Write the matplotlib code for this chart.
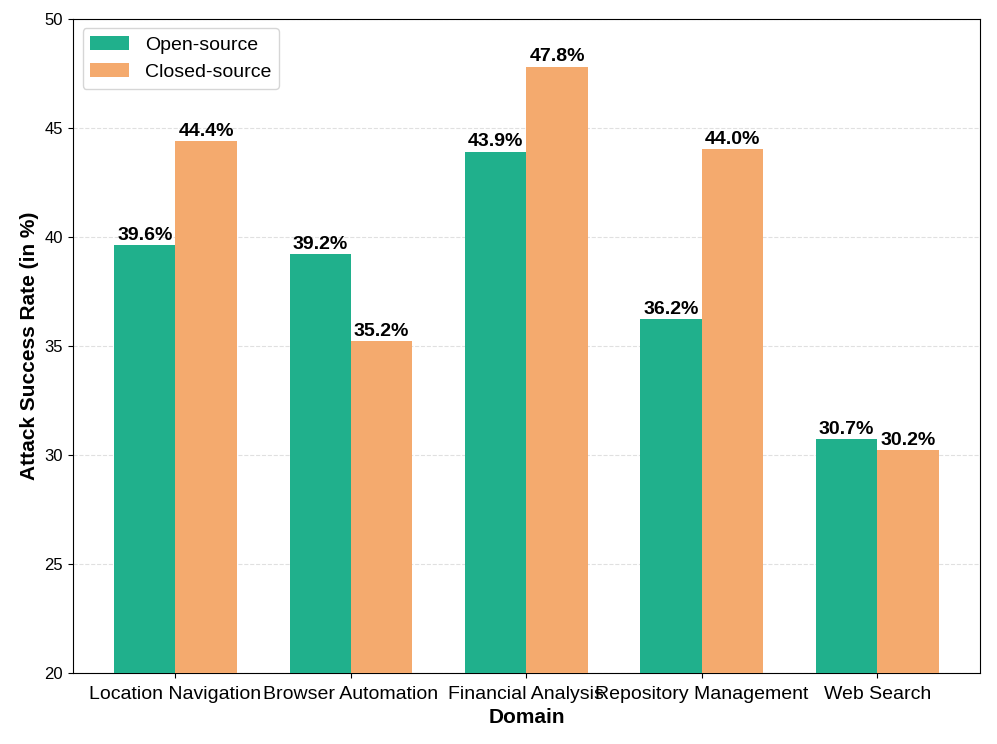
import numpy as np
import matplotlib
matplotlib.use("Agg")
import matplotlib.pyplot as plt

plt.rcParams['font.family'] = ['Liberation Sans', 'DejaVu Sans']

domains = ["Location Navigation", "Browser Automation", "Financial Analysis",
           "Repository Management", "Web Search"]
open_src = [39.6, 39.2, 43.9, 36.2, 30.7]
closed_src = [44.4, 35.2, 47.8, 44.0, 30.2]

fig, ax = plt.subplots(figsize=(9.97, 7.44), dpi=100)
x = np.arange(len(domains))
w = 0.35

b1 = ax.bar(x - w / 2, open_src, w, color="#20B08C", label="Open-source", zorder=3)
b2 = ax.bar(x + w / 2, closed_src, w, color="#F4AA6E", label="Closed-source", zorder=3)

for bars in (b1, b2):
    for r in bars:
        ax.text(r.get_x() + r.get_width() / 2, r.get_height() + 0.05,
                f"{r.get_height():.1f}%", ha="center", va="bottom",
                fontsize=14, fontweight="bold", zorder=4)

ax.set_ylim(20, 50)
ax.set_xticks(x)
ax.set_xticklabels(domains, fontsize=14)
ax.tick_params(axis="x", pad=6)
ax.tick_params(axis="y", labelsize=12)
ax.set_xlabel("Domain", fontsize=15, fontweight="bold", labelpad=4)
ax.set_ylabel("Attack Success Rate (in %)", fontsize=15, fontweight="bold")
ax.yaxis.grid(True, linestyle="--", color="#cccccc", alpha=0.6, zorder=0)
ax.legend(loc="upper left", fontsize=14)

fig.subplots_adjust(left=0.073, right=0.983, top=0.975, bottom=0.096)
fig.savefig("out.png", dpi=100)
